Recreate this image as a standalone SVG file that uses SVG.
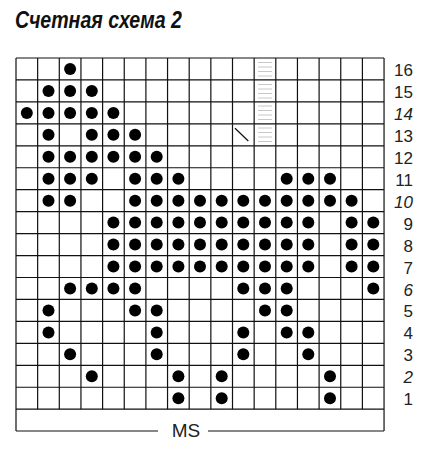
<svg xmlns="http://www.w3.org/2000/svg" width="437" height="450" viewBox="0 0 437 450">
<style>
.g{stroke:#111;stroke-width:1.2;fill:none}
.h{stroke:#c8c8c8;stroke-width:1}
.d{fill:#000}
.n{font-family:"Liberation Sans",Arial,sans-serif;font-size:17px;fill:#222;text-anchor:end}
.i{font-style:italic}
.t{font-family:"Liberation Sans",Arial,sans-serif;font-size:24px;font-weight:bold;font-style:italic;fill:#111}
.ms{font-family:"Liberation Sans",Arial,sans-serif;font-size:19px;fill:#222;text-anchor:middle}
</style>
<rect width="437" height="450" fill="#fff"/>
<text class="t" x="15" y="28" textLength="167" lengthAdjust="spacingAndGlyphs">Счетная схема 2</text>
<g id="hatch">
<path class="h" d="M258 62.5H272M258 67H272M258 71.5H272M258 76H272M258 84.5H272M258 89H272M258 93.5H272M258 98H272M258 106H272M258 110.5H272M258 115H272M258 119.5H272M258 128H272M258 132.5H272M258 137H272M258 141.5H272"/>
</g>
<g id="grid">
<path class="g" d="M16 58V431M37.65 58V409.2M59.3 58V409.2M80.95 58V409.2M102.6 58V409.2M124.25 58V409.2M145.9 58V409.2M167.55 58V409.2M189.2 58V409.2M210.85 58V409.2M232.5 58V409.2M254.15 58V409.2M275.8 58V409.2M297.45 58V409.2M319.1 58V409.2M340.75 58V409.2M362.4 58V409.2M384.05 58V431"/>
<path class="g" d="M16 58H384.05M16 79.95H384.05M16 101.9H384.05M16 123.85H384.05M16 145.8H384.05M16 167.75H384.05M16 189.7H384.05M16 211.65H384.05M16 233.6H384.05M16 255.55H384.05M16 277.5H384.05M16 299.45H384.05M16 321.4H384.05M16 343.35H384.05M16 365.3H384.05M16 387.25H384.05M16 409.2H384.05"/>
<path class="g" d="M16 431H158M208 431H384.05"/>
<path class="g" d="M235 128.3L248.3 141"/>
</g>
<g id="dots">
<circle class="d" cx="70.1" cy="69" r="6"/>
<circle class="d" cx="48.5" cy="90.9" r="6"/><circle class="d" cx="70.1" cy="90.9" r="6"/><circle class="d" cx="91.8" cy="90.9" r="6"/>
<circle class="d" cx="26.8" cy="112.9" r="6"/><circle class="d" cx="48.5" cy="112.9" r="6"/><circle class="d" cx="70.1" cy="112.9" r="6"/><circle class="d" cx="91.8" cy="112.9" r="6"/><circle class="d" cx="113.4" cy="112.9" r="6"/>
<circle class="d" cx="48.5" cy="134.8" r="6"/><circle class="d" cx="91.8" cy="134.8" r="6"/><circle class="d" cx="113.4" cy="134.8" r="6"/><circle class="d" cx="135.1" cy="134.8" r="6"/>
<circle class="d" cx="48.5" cy="156.8" r="6"/><circle class="d" cx="70.1" cy="156.8" r="6"/><circle class="d" cx="91.8" cy="156.8" r="6"/><circle class="d" cx="113.4" cy="156.8" r="6"/><circle class="d" cx="135.1" cy="156.8" r="6"/><circle class="d" cx="156.7" cy="156.8" r="6"/>
<circle class="d" cx="48.5" cy="178.7" r="6"/><circle class="d" cx="70.1" cy="178.7" r="6"/><circle class="d" cx="91.8" cy="178.7" r="6"/><circle class="d" cx="135.1" cy="178.7" r="6"/><circle class="d" cx="156.7" cy="178.7" r="6"/><circle class="d" cx="178.4" cy="178.7" r="6"/><circle class="d" cx="286.7" cy="178.7" r="6"/><circle class="d" cx="308.3" cy="178.7" r="6"/><circle class="d" cx="330" cy="178.7" r="6"/>
<circle class="d" cx="48.5" cy="200.7" r="6"/><circle class="d" cx="70.1" cy="200.7" r="6"/><circle class="d" cx="135.1" cy="200.7" r="6"/><circle class="d" cx="156.7" cy="200.7" r="6"/><circle class="d" cx="178.4" cy="200.7" r="6"/><circle class="d" cx="200" cy="200.7" r="6"/><circle class="d" cx="221.7" cy="200.7" r="6"/><circle class="d" cx="243.3" cy="200.7" r="6"/><circle class="d" cx="265" cy="200.7" r="6"/><circle class="d" cx="286.7" cy="200.7" r="6"/><circle class="d" cx="308.3" cy="200.7" r="6"/><circle class="d" cx="330" cy="200.7" r="6"/><circle class="d" cx="351.6" cy="200.7" r="6"/>
<circle class="d" cx="113.4" cy="222.6" r="6"/><circle class="d" cx="135.1" cy="222.6" r="6"/><circle class="d" cx="156.7" cy="222.6" r="6"/><circle class="d" cx="178.4" cy="222.6" r="6"/><circle class="d" cx="200" cy="222.6" r="6"/><circle class="d" cx="221.7" cy="222.6" r="6"/><circle class="d" cx="243.3" cy="222.6" r="6"/><circle class="d" cx="265" cy="222.6" r="6"/><circle class="d" cx="286.7" cy="222.6" r="6"/><circle class="d" cx="308.3" cy="222.6" r="6"/><circle class="d" cx="351.6" cy="222.6" r="6"/><circle class="d" cx="373.3" cy="222.6" r="6"/>
<circle class="d" cx="113.4" cy="244.6" r="6"/><circle class="d" cx="135.1" cy="244.6" r="6"/><circle class="d" cx="156.7" cy="244.6" r="6"/><circle class="d" cx="178.4" cy="244.6" r="6"/><circle class="d" cx="200" cy="244.6" r="6"/><circle class="d" cx="221.7" cy="244.6" r="6"/><circle class="d" cx="243.3" cy="244.6" r="6"/><circle class="d" cx="265" cy="244.6" r="6"/><circle class="d" cx="286.7" cy="244.6" r="6"/><circle class="d" cx="308.3" cy="244.6" r="6"/><circle class="d" cx="351.6" cy="244.6" r="6"/><circle class="d" cx="373.3" cy="244.6" r="6"/>
<circle class="d" cx="113.4" cy="266.5" r="6"/><circle class="d" cx="135.1" cy="266.5" r="6"/><circle class="d" cx="156.7" cy="266.5" r="6"/><circle class="d" cx="178.4" cy="266.5" r="6"/><circle class="d" cx="200" cy="266.5" r="6"/><circle class="d" cx="221.7" cy="266.5" r="6"/><circle class="d" cx="243.3" cy="266.5" r="6"/><circle class="d" cx="265" cy="266.5" r="6"/><circle class="d" cx="286.7" cy="266.5" r="6"/><circle class="d" cx="308.3" cy="266.5" r="6"/><circle class="d" cx="351.6" cy="266.5" r="6"/><circle class="d" cx="373.3" cy="266.5" r="6"/>
<circle class="d" cx="70.1" cy="288.5" r="6"/><circle class="d" cx="91.8" cy="288.5" r="6"/><circle class="d" cx="113.4" cy="288.5" r="6"/><circle class="d" cx="135.1" cy="288.5" r="6"/><circle class="d" cx="243.3" cy="288.5" r="6"/><circle class="d" cx="265" cy="288.5" r="6"/><circle class="d" cx="286.7" cy="288.5" r="6"/><circle class="d" cx="373.3" cy="288.5" r="6"/>
<circle class="d" cx="48.5" cy="310.4" r="6"/><circle class="d" cx="135.1" cy="310.4" r="6"/><circle class="d" cx="156.7" cy="310.4" r="6"/><circle class="d" cx="265" cy="310.4" r="6"/><circle class="d" cx="286.7" cy="310.4" r="6"/>
<circle class="d" cx="48.5" cy="332.4" r="6"/><circle class="d" cx="156.7" cy="332.4" r="6"/><circle class="d" cx="243.3" cy="332.4" r="6"/><circle class="d" cx="286.7" cy="332.4" r="6"/><circle class="d" cx="308.3" cy="332.4" r="6"/>
<circle class="d" cx="70.1" cy="354.3" r="6"/><circle class="d" cx="156.7" cy="354.3" r="6"/><circle class="d" cx="243.3" cy="354.3" r="6"/><circle class="d" cx="308.3" cy="354.3" r="6"/>
<circle class="d" cx="91.8" cy="376.3" r="6"/><circle class="d" cx="178.4" cy="376.3" r="6"/><circle class="d" cx="221.7" cy="376.3" r="6"/><circle class="d" cx="330" cy="376.3" r="6"/>
<circle class="d" cx="178.4" cy="398.2" r="6"/><circle class="d" cx="221.7" cy="398.2" r="6"/><circle class="d" cx="330" cy="398.2" r="6"/>
</g>
<g id="labels">
<text class="n" x="413" y="76">16</text>
<text class="n" x="413" y="97.9">15</text>
<text class="n i" x="413" y="119.9">14</text>
<text class="n" x="413" y="141.8">13</text>
<text class="n" x="413" y="163.8">12</text>
<text class="n" x="413" y="185.7">11</text>
<text class="n i" x="413" y="207.7">10</text>
<text class="n" x="413" y="229.6">9</text>
<text class="n" x="413" y="251.6">8</text>
<text class="n" x="413" y="273.5">7</text>
<text class="n i" x="413" y="295.5">6</text>
<text class="n" x="413" y="317.4">5</text>
<text class="n" x="413" y="339.4">4</text>
<text class="n" x="413" y="361.3">3</text>
<text class="n i" x="413" y="383.3">2</text>
<text class="n" x="413" y="405.2">1</text>
<text class="ms" x="186" y="437">MS</text>
</g>
</svg>
